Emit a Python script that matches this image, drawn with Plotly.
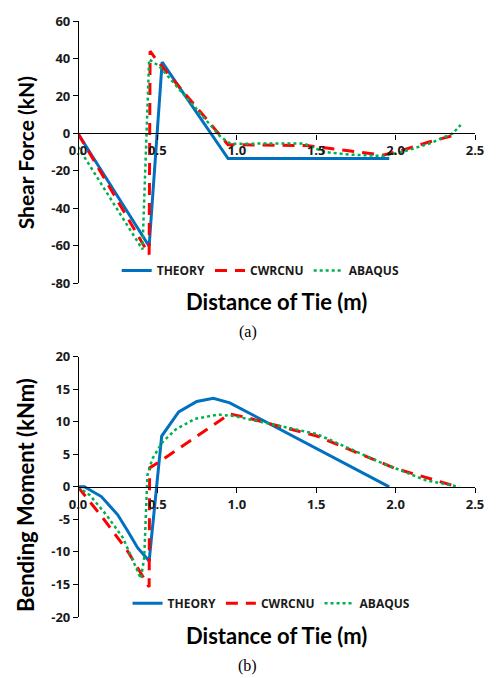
import plotly.graph_objects as go

# ---------------- data ----------------
# (a) Shear force
sf_theory_x = [0.0, 0.448, 0.53, 0.945, 1.96]
sf_theory_y = [0.0, -60.2, 38.1, -13.4, -13.4]

sf_cwrcnu_x = [0.0, 0.448, 0.454, 0.50, 0.945, 1.44, 1.92, 2.04, 2.21, 2.365, 2.39]
sf_cwrcnu_y = [0.0, -64.6, 43.9, 38.6, -6.0, -6.5, -11.6, -9.0, -4.6, -1.0, 0.0]

sf_abaqus_x = [0.0, 0.406, 0.448, 0.51, 0.90, 0.96, 1.42, 1.55, 1.71, 1.92, 2.04, 2.21, 2.36, 2.41]
sf_abaqus_y = [-7.2, -61.9, 39.5, 36.0, -2.0, -5.5, -5.3, -9.9, -11.3, -12.0, -9.9, -5.5, 0.0, 4.6]

# (b) Bending moment
bm_theory_x = [0.0, 0.04, 0.147, 0.25, 0.313, 0.375, 0.448, 0.527, 0.634, 0.748, 0.852, 0.956, 1.96]
bm_theory_y = [0.0, 0.0, -1.5, -4.3, -6.8, -9.35, -11.4, 7.8, 11.5, 13.1, 13.6, 12.9, 0.0]

bm_cwrcnu_x = [0.0, 0.157, 0.313, 0.396, 0.448, 0.451, 0.51, 0.956, 1.07, 1.18, 1.505, 2.0, 2.39]
bm_cwrcnu_y = [0.0, -4.8, -9.9, -13.4, -15.4, 2.9, 3.8, 11.2, 10.6, 9.85, 7.8, 2.8, 0.0]

bm_abaqus_x = [0.0, 0.075, 0.178, 0.282, 0.396, 0.417, 0.437, 0.468, 0.53, 0.614, 0.738, 0.883, 0.987, 1.18, 1.505, 1.9, 2.19, 2.4]
bm_abaqus_y = [0.0, -1.3, -4.3, -7.8, -14.1, -10.9, 1.8, 4.3, 6.8, 8.8, 10.45, 11.1, 10.85, 9.85, 8.1, 3.8, 1.0, 0.0]

x_ticks = [0.0, 0.5, 1.0, 1.5, 2.0, 2.5]
x_ticktext = ["0.0", "0.5", "1.0", "1.5", "2.0", "2.5"]
sf_ticks = [60, 40, 20, 0, -20, -40, -60, -80]
bm_ticks = [20, 15, 10, 5, 0, -5, -10, -15, -20]

series_names = ["THEORY", "CWRCNU", "ABAQUS"]

# ---------------- styling ----------------
W, H = 496, 678
ML, MR, MT, MB = 78, 16, 15, 61
FONT = "Lato"
SMALL_FONT = "Open Sans"
BLUE, RED, GREEN = "#0070C0", "#FF0000", "#00B050"
styles = [dict(color=BLUE, width=3, dash="solid"),
          dict(color=RED, width=3, dash="12px,8px"),
          dict(color=GREEN, width=2.5, dash="dot")]

ph = H - MT - MB
pw = W - ML - MR
def pfy(py):
    return (H - MB - py) / ph
def pfx(px):
    return (px - ML) / pw

top_dom = [pfy(280), 1.0]
bot_dom = [0.0, pfy(354)]
sf_range = [-80, 60]
bm_range = [-20, 20]

fig = go.Figure()
for name, st, xs, ys in zip(series_names, styles,
                            [sf_theory_x, sf_cwrcnu_x, sf_abaqus_x],
                            [sf_theory_y, sf_cwrcnu_y, sf_abaqus_y]):
    fig.add_trace(go.Scatter(x=xs, y=ys, mode="lines", name=name, line=st,
                             xaxis="x", yaxis="y", legend="legend"))
for name, st, xs, ys in zip(series_names, styles,
                            [bm_theory_x, bm_cwrcnu_x, bm_abaqus_x],
                            [bm_theory_y, bm_cwrcnu_y, bm_abaqus_y]):
    fig.add_trace(go.Scatter(x=xs, y=ys, mode="lines", name=name, line=st,
                             xaxis="x2", yaxis="y2", legend="legend2"))

def zero_pos(dom, rng):
    return dom[0] + (0 - rng[0]) / (rng[1] - rng[0]) * (dom[1] - dom[0])

tickfont = dict(family=SMALL_FONT, size=13, color="#1a1a1a", weight="bold")
common_x = dict(range=[0, 2.5], tickvals=x_ticks, ticktext=x_ticktext,
                showline=True, linecolor="black", linewidth=1.2,
                ticks="outside", ticklen=5, tickcolor="black",
                showgrid=False, zeroline=False, tickfont=tickfont,
                anchor="free", domain=[0, 1])
common_y = dict(showline=True, linecolor="black", linewidth=1.2,
                ticks="outside", ticklen=5, tickcolor="black",
                showgrid=False, zeroline=False, tickfont=tickfont,
                anchor="free", position=0)

legfont = dict(family=SMALL_FONT, size=12, color="#1a1a1a", weight="bold")
fig.update_layout(
    width=W, height=H,
    margin=dict(l=ML, r=MR, t=MT, b=MB),
    paper_bgcolor="white", plot_bgcolor="white",
    font=dict(family=FONT, color="black"),
    xaxis=dict(**common_x, position=zero_pos(top_dom, sf_range)),
    yaxis=dict(**common_y, domain=top_dom, range=sf_range,
               tickvals=sf_ticks, ticktext=[str(v) for v in sf_ticks]),
    xaxis2=dict(**common_x, position=zero_pos(bot_dom, bm_range)),
    yaxis2=dict(**common_y, domain=bot_dom, range=bm_range,
                tickvals=bm_ticks, ticktext=[str(v) for v in bm_ticks]),
    legend=dict(orientation="h", x=pfx(263), y=pfy(267), xanchor="center", yanchor="middle",
                font=legfont, bgcolor="rgba(0,0,0,0)", itemwidth=30),
    legend2=dict(orientation="h", x=pfx(274), y=pfy(603), xanchor="center", yanchor="middle",
                 font=legfont, bgcolor="rgba(0,0,0,0)", itemwidth=30),
    showlegend=True,
)

ann = [
    dict(text="Distance of Tie (m)", x=0.5, y=pfy(298), size=22),
    dict(text="Distance of Tie (m)", x=0.5, y=pfy(636), size=22),
    dict(text="Shear Force (kN)", x=pfx(25), y=pfy(148), textangle=-90, size=21),
    dict(text="Bending Moment (kNm)", x=pfx(25), y=pfy(494), textangle=-90, size=22),
]
for a in ann:
    sz = a.pop("size")
    a.update(xref="paper", yref="paper", showarrow=False,
             font=dict(family=FONT, size=sz, color="black", weight="bold"),
             xanchor="center", yanchor="middle")
serif = dict(family="Liberation Serif", size=16, color="black")
ann += [
    dict(text="(a)", x=pfx(250), y=pfy(329), xref="paper", yref="paper", showarrow=False,
         font=serif, xanchor="center", yanchor="middle"),
    dict(text="(b)", x=pfx(250), y=pfy(666), xref="paper", yref="paper", showarrow=False,
         font=serif, xanchor="center", yanchor="middle"),
]
fig.update_layout(annotations=ann)

fig.write_html("out.html")
